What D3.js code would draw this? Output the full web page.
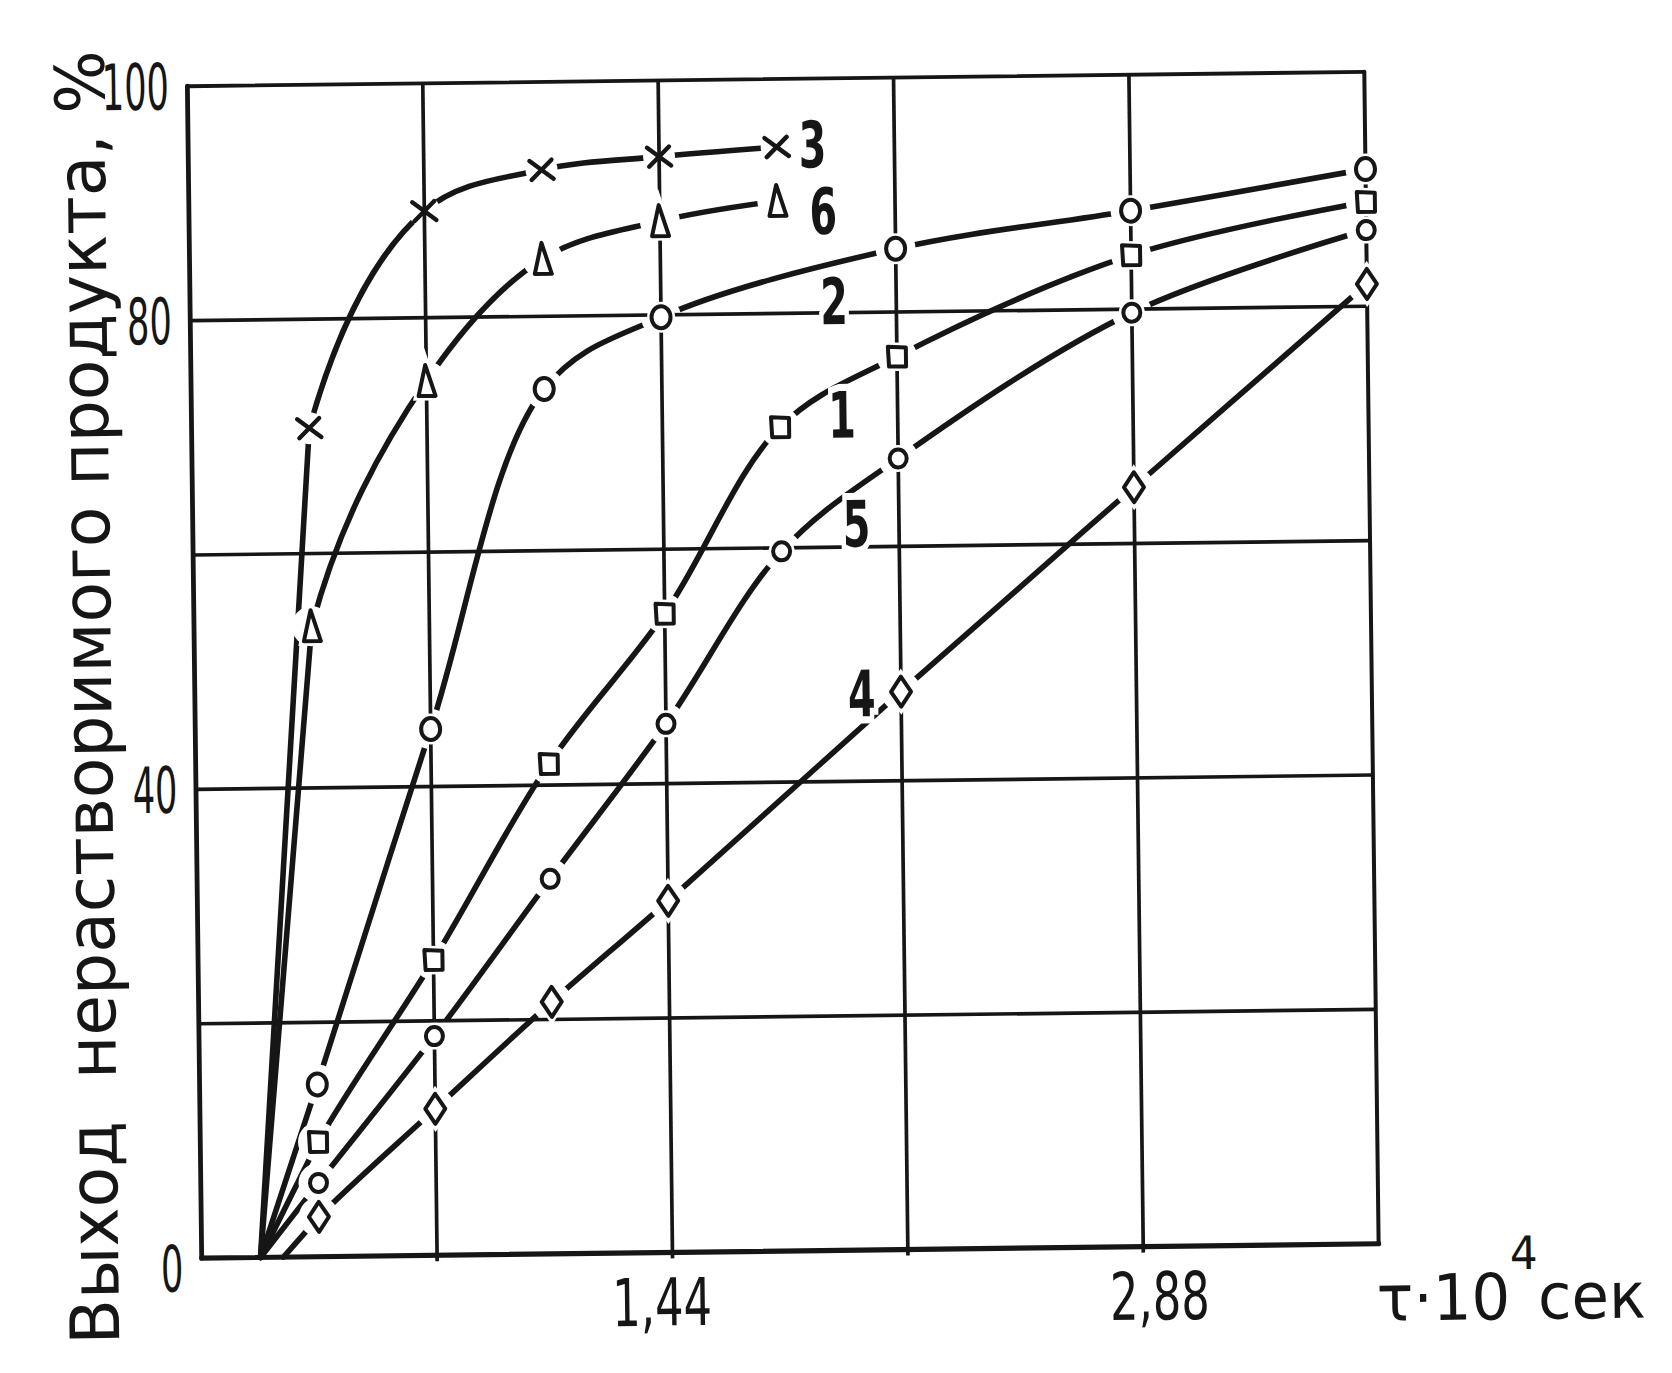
<!DOCTYPE html>
<html lang="ru">
<head>
<meta charset="UTF-8">
<title>Выход нерастворимого продукта</title>
<script src="https://cdn.jsdelivr.net/npm/d3@7"></script>
<style>
    body { margin: 0; background: #fff; }
    text { font-family: "DejaVu Sans", sans-serif; fill: #161616; }
</style>
</head>
<body>
<script>
    // время τ·10^4 сек; первая точка каждой кривой - начало, без значка
    var tauA = [0.18, 0.36, 0.72, 1.08, 1.44, 1.80, 2.16, 2.88, 3.60];   // кривые 1, 5
    var tauB = [0.18, 0.36, 0.72, 1.08, 1.44, 2.16, 2.88, 3.60];         // кривая 2
    var tauC = [0.18, 0.36, 0.72, 1.08, 1.44, 1.80];                     // кривые 3, 6
    var tauD = [0.25, 0.36, 0.72, 1.08, 1.44, 2.16, 2.88, 3.60];         // кривая 4

    // выход нерастворимого продукта, %
    var y1 = [0, 9.8, 25.2, 41.8, 54.5, 70.3, 76.2, 84.6, 88.9];
    var y2 = [0, 14.7, 44.9, 73.8, 79.8, 85.4, 88.4, 91.7];
    var y3 = [0, 70.7, 89.1, 92.5, 93.5, 94.2];
    var y4 = [0, 3.4, 12.5, 21.5, 30.0, 47.6, 64.8, 81.9];
    var y5 = [0, 6.3, 18.7, 32.0, 45.1, 59.7, 67.5, 79.7, 86.5];
    var y6 = [0, 53.8, 74.6, 84.9, 88.0, 89.6];

    var curveNames = ['1', '2', '3', '4', '5', '6'];
    var curveTau = [tauA, tauB, tauC, tauD, tauA, tauC];
    var curveY = [y1, y2, y3, y4, y5, y6];
    var curveMarks = ['square', 'circle', 'cross', 'diamond', 'circleSmall', 'triangle'];
    // где стоит номер кривой (τ, %)
    var labelTau = [1.99, 1.97, 1.91, 2.04, 2.03, 1.94];
    var labelY = [71.3, 81.0, 94.4, 47.5, 62.0, 88.7];

    var xGrid = [0.72, 1.44, 2.16, 2.88];
    var yGrid = [20, 40, 60, 80];
    var xTicks = [1.44, 2.88];
    var xTickLabels = ['1,44', '2,88'];
    var yTicks = [0, 40, 80, 100];
    var yTickLabels = ['0', '40', '80', '100'];

    var width = 1672, height = 1373;
    var ink = '#161616';
    var svg = d3.select('body').append('svg').attr('width', width).attr('height', height);
    svg.append('rect').attr('width', width).attr('height', height).attr('fill', '#fff');

    var x = d3.scaleLinear().domain([0, 3.6]).range([194.5, 1371.5]);
    var y = d3.scaleLinear().domain([0, 100]).range([1251, 79]);

    // рисунок от руки слегка повёрнут
    var g = svg.append('g').attr('transform', 'rotate(-0.7,783,665)');

    // сетка
    g.selectAll('line.vg').data(xGrid).enter().append('line')
        .attr('x1', function(d){ return x(d); }).attr('x2', function(d){ return x(d); })
        .attr('y1', y(100)).attr('y2', y(0) + 6)
        .attr('stroke', ink).attr('stroke-width', 3.7);
    g.selectAll('line.hg').data(yGrid).enter().append('line')
        .attr('y1', function(d){ return y(d); }).attr('y2', function(d){ return y(d); })
        .attr('x1', x(0)).attr('x2', x(3.6))
        .attr('stroke', ink).attr('stroke-width', 3.7);
    // рамка
    g.append('line').attr('x1', x(0)).attr('x2', x(3.6)).attr('y1', y(100)).attr('y2', y(100))
        .attr('stroke', ink).attr('stroke-width', 3.8).attr('stroke-linecap', 'round');
    g.append('line').attr('x1', x(3.6)).attr('x2', x(3.6)).attr('y1', y(100)).attr('y2', y(0))
        .attr('stroke', ink).attr('stroke-width', 4).attr('stroke-linecap', 'round');
    g.append('line').attr('x1', x(0)).attr('x2', x(0)).attr('y1', y(100)).attr('y2', y(0))
        .attr('stroke', ink).attr('stroke-width', 4.8).attr('stroke-linecap', 'round');
    g.append('line').attr('x1', x(0)).attr('x2', x(3.6)).attr('y1', y(0)).attr('y2', y(0))
        .attr('stroke', ink).attr('stroke-width', 5.2).attr('stroke-linecap', 'round');

    // точки со значками
    var pts = [];
    curveNames.forEach(function(name, k){
        curveTau[k].forEach(function(t, i){
            if (i > 0) pts.push({t: t, v: curveY[k][i], mark: curveMarks[k]});
        });
    });

    // разрывы линий у значков
    var mask = svg.append('defs').append('mask').attr('id', 'gaps')
        .attr('maskUnits', 'userSpaceOnUse').attr('x', -100).attr('y', -100)
        .attr('width', width + 200).attr('height', height + 200);
    mask.append('rect').attr('x', -100).attr('y', -100)
        .attr('width', width + 200).attr('height', height + 200).attr('fill', '#fff');
    mask.selectAll('circle').data(pts).enter().append('circle')
        .attr('cx', function(d){ return x(d.t); }).attr('cy', function(d){ return y(d.v); })
        .attr('r', function(d){ return d.mark == 'cross' ? 16 : 20; }).attr('fill', '#000');

    var line = d3.line().curve(d3.curveCatmullRom.alpha(0.5))
        .x(function(d){ return x(d[0]); }).y(function(d){ return y(d[1]); });

    // первый участок от начала - прямой, дальше плавная кривая
    function curvePath(data){
        var parts = line(data).split('C');
        var first = parts[1].split(',');
        var p1 = first.slice(-2).join(',');
        return parts[0] + 'L' + p1 + parts.slice(2).map(function(s){ return 'C' + s; }).join('');
    }

    var curves = g.append('g').attr('mask', 'url(#gaps)');
    curveNames.forEach(function(name, k){
        curves.append('path').datum(d3.zip(curveTau[k], curveY[k]))
            .attr('d', curvePath).attr('fill', 'none').attr('stroke', ink)
            .attr('stroke-width', 5.6).attr('stroke-linecap', 'round');
    });

    var shapes = {
        square: 'M-9,-10L9,-9L9,10L-8,10Z',
        circle: 'M0,-11A9.5,11 0 1,1 0,11A9.5,11 0 1,1 0,-11Z',
        circleSmall: 'M0,-9A8.5,9 0 1,1 0,9A8.5,9 0 1,1 0,-9Z',
        cross: 'M-12,-9L12,9M-10,10L10,-10',
        diamond: 'M0,-15L10,0L0,15L-10,0Z',
        triangle: 'M-1,-16L9,15L-8,15Z'
    };
    var marks = g.selectAll('g.mark').data(pts).enter().append('g')
        .attr('transform', function(d){ return 'translate(' + x(d.t) + ',' + y(d.v) + ')'; });
    marks.append('path').attr('d', function(d){ return shapes[d.mark]; })
        .attr('fill', '#fff').attr('stroke', '#fff')
        .attr('stroke-width', function(d){ return d.mark == 'cross' ? 0 : 9; });
    marks.append('path').attr('d', function(d){ return shapes[d.mark]; })
        .attr('fill', function(d){ return d.mark == 'cross' ? 'none' : '#fff'; })
        .attr('stroke', ink).attr('stroke-width', function(d){ return d.mark == 'cross' ? 4.4 : 4; })
        .attr('stroke-linejoin', 'round').attr('stroke-linecap', 'round');

    // номера кривых
    curveNames.forEach(function(name, k){
        g.append('g')
            .attr('transform', 'translate(' + x(labelTau[k]) + ',' + y(labelY[k]) + ') scale(0.62,1)')
            .append('text').attr('text-anchor', 'middle').attr('dy', '0.36em')
            .style('font-size', '64px').style('font-weight', 'bold')
            .attr('stroke', '#fff').attr('stroke-width', 14).attr('paint-order', 'stroke')
            .text(name);
    });

    // подписи делений
    yTicks.forEach(function(d, i){
        g.append('g')
            .attr('transform', 'translate(176,' + (y(d) + (d == 0 ? 10 : 0)) + ') scale(0.55,1)')
            .append('text').attr('text-anchor', 'end').attr('dy', '0.36em')
            .style('font-size', '64px').text(yTickLabels[i]);
    });
    xTicks.forEach(function(d, i){
        g.append('g')
            .attr('transform', 'translate(' + (x(d) + (d > 2 ? 16 : -11)) + ',' + (y(0) + 73) + ') scale(0.68,1)')
            .append('text').attr('text-anchor', 'middle')
            .style('font-size', '66px').text(xTickLabels[i]);
    });

    // подписи осей
    g.append('text')
        .attr('transform', 'translate(111,1336) rotate(-90)')
        .attr('textLength', 1294).attr('lengthAdjust', 'spacingAndGlyphs')
        .style('font-size', '68px').style('white-space', 'pre')
        .text('Выход  нерастворимого продукта, %');

    var xt = g.append('text').attr('x', 1369).attr('y', 1328)
        .attr('textLength', 269).attr('lengthAdjust', 'spacingAndGlyphs')
        .style('font-size', '64px');
    xt.append('tspan').text('τ');
    xt.append('tspan').text('·');
    xt.append('tspan').text('10');
    xt.append('tspan').attr('dy', -50).style('font-size', '46px').text('4');
    xt.append('tspan').attr('dy', 50).text('сек');
</script>
</body>
</html>
